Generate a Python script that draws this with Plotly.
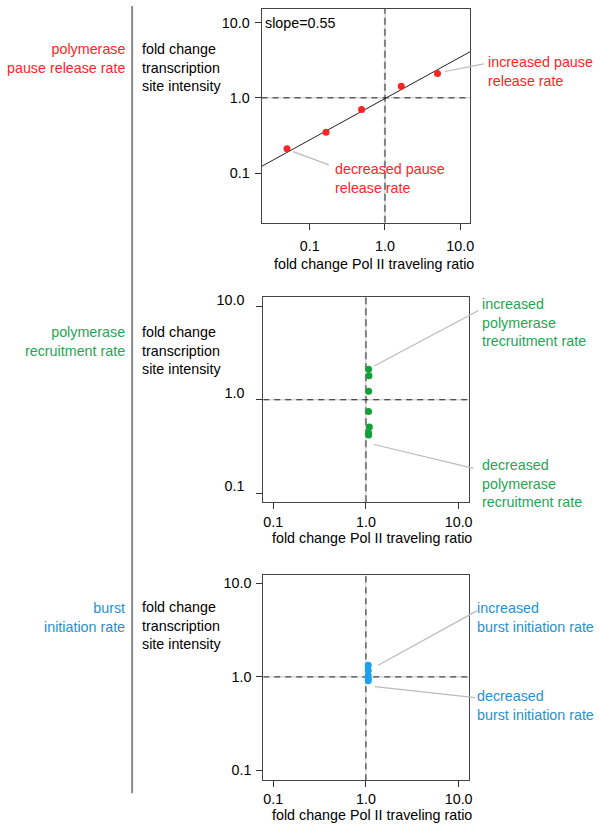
import numpy as np
import plotly.graph_objects as go

W, H = 600, 824

# ---------------- data ----------------
# panel 1: polymerase pause release rate
p1_x = [0.050, 0.165, 0.49, 1.65, 4.99]
p1_y = [0.21, 0.35, 0.70, 1.43, 2.10]
p1_slope = 0.55
p1_intercept = -0.01   # log10 intercept of fitted line

# panel 2: polymerase recruitment rate
p2_x = [1.07, 1.08, 1.07, 1.07, 1.09, 1.07, 1.07]
p2_y = [2.12, 1.81, 1.23, 0.75, 0.51, 0.44, 0.42]

# panel 3: burst initiation rate
p3_x = [1.06, 1.06, 1.06, 1.06, 1.06]
p3_y = [1.33, 1.17, 1.03, 0.95, 0.91]

tick_vals = [0.1, 1, 10]
tick_text = ["0.1", "1.0", "10.0"]

RED = "#FF2424"
GREEN_PT = "#12A03A"
GREEN_TX = "#1FA652"
BLUE_PT = "#1AA2F0"
BLUE_TX = "#2591D2"
FONT = "Liberation Sans, Arial, Helvetica, sans-serif"
FS = 14.3

# ---------------- layout geometry (pixels) ----------------
panels = [
    dict(px=(263.3, 473.3), py=(2.7, 218.3), xr=(-1.639, 1.132), yr=(-1.66, 1.185)),
    dict(px=(265, 471.7), py=(293.3, 500), xr=(-1.107, 1.107), yr=(-1.10, 1.10)),
    dict(px=(265, 471.7), py=(573.3, 780), xr=(-1.107, 1.107), yr=(-1.106, 1.089)),
]


def px2x(x):
    return x / W


def px2y(y):
    return 1 - y / H


fig = go.Figure()

layout = dict(
    width=W, height=H, margin=dict(l=0, r=0, t=0, b=0),
    paper_bgcolor="white", plot_bgcolor="white", showlegend=False,
    font=dict(family=FONT, size=FS, color="black"),
)

for i, p in enumerate(panels):
    n = "" if i == 0 else str(i + 1)
    common = dict(
        type="log", tickvals=tick_vals, ticktext=tick_text, showgrid=False,
        zeroline=False, showline=True, mirror=True, linecolor="#444", linewidth=1,
        ticks="outside", ticklen=6, tickcolor="#333", tickwidth=1,
        tickfont=dict(family=FONT, size=FS, color="black"),
    )
    layout["xaxis" + n] = dict(common, domain=[px2x(p["px"][0]), px2x(p["px"][1])],
                               range=list(p["xr"]), anchor="y" + n,
                               ticklabelstandoff=4 if i == 0 else 0)
    ya = dict(common, domain=[px2y(p["py"][1]), px2y(p["py"][0])],
              range=list(p["yr"]), anchor="x" + n, ticklabelstandoff=2)
    if i == 1:
        ya["ticklabelshift"] = -7
        ya["ticklabelstandoff"] = 9
    layout["yaxis" + n] = ya

fig.update_layout(**layout)


def ref_lines(i, vcolor, vwidth, vdash):
    n = "" if i == 0 else str(i + 1)
    p = panels[i]
    ylo, yhi = 10 ** p["yr"][0], 10 ** p["yr"][1]
    xlo, xhi = 10 ** p["xr"][0], 10 ** p["xr"][1]
    xa, ya = "x" + n, "y" + n
    for (xs, ys) in [([1, 1], [ylo, yhi]), ([xlo, xhi], [1, 1])]:
        fig.add_trace(go.Scatter(x=xs, y=ys, mode="lines", xaxis=xa, yaxis=ya,
                                 line=dict(color="#c8c8c8", width=1), hoverinfo="skip"))
    fig.add_trace(go.Scatter(x=[1, 1], y=[ylo, yhi], mode="lines", xaxis=xa, yaxis=ya,
                             line=dict(color=vcolor, width=vwidth, dash=vdash), hoverinfo="skip"))
    fig.add_trace(go.Scatter(x=[xlo, xhi], y=[1, 1], mode="lines", xaxis=xa, yaxis=ya,
                             line=dict(color="#222", width=1, dash="6px,5px"), hoverinfo="skip"))


ref_lines(0, "#808080", 2, "7px,4px")
ref_lines(1, "#808080", 2, "7px,4px")
ref_lines(2, "#222", 1, "6px,5px")

# fitted line panel 1
lx = np.array([10 ** panels[0]["xr"][0], 10 ** panels[0]["xr"][1]])
ly = 10 ** (p1_slope * np.log10(lx) + p1_intercept)
fig.add_trace(go.Scatter(x=lx, y=ly, mode="lines", xaxis="x", yaxis="y",
                         line=dict(color="#222", width=1)))

fig.add_trace(go.Scatter(x=p1_x, y=p1_y, mode="markers", xaxis="x", yaxis="y",
                         marker=dict(color=RED, size=7)))
fig.add_trace(go.Scatter(x=p2_x, y=p2_y, mode="markers", xaxis="x2", yaxis="y2",
                         marker=dict(color=GREEN_PT, size=7)))
fig.add_trace(go.Scatter(x=p3_x, y=p3_y, mode="markers", xaxis="x3", yaxis="y3",
                         marker=dict(color=BLUE_PT, size=7)))

annotations = []


def text(x, y, s, color="black", anchor="left"):
    annotations.append(dict(x=px2x(x), y=px2y(y), xref="paper", yref="paper", text=s,
                            showarrow=False, xanchor=anchor, yanchor="middle", align=anchor,
                            font=dict(family=FONT, size=FS, color=color)))


ylab = "fold change<br>transcription<br>site intensity"
xlab = "fold change Pol II traveling ratio"

# panel 1
text(128, 53, "polymerase<br>pause release rate", RED, "right")
text(141, 61.7, ylab)
text(265, 16.7, "slope=0.55")
text(489, 65.5, "increased pause<br>release rate", RED)
text(335, 174, "decreased pause<br>release rate", RED)
annotations.append(dict(x=px2x(377), y=px2y(260), xref="paper", yref="paper", text=xlab,
                        showarrow=False, xanchor="center", yanchor="middle",
                        font=dict(family=FONT, size=FS, color="black")))
# panel 2
text(128, 338.3, "polymerase<br>recruitment rate", GREEN_TX, "right")
text(141, 346.7, ylab)
text(483, 319.3, "increased<br>polymerase<br>trecruitment rate", GREEN_TX)
text(483, 480.7, "decreased<br>polymerase<br>recruitment rate", GREEN_TX)
annotations.append(dict(x=px2x(374), y=px2y(536), xref="paper", yref="paper", text=xlab,
                        showarrow=False, xanchor="center", yanchor="middle",
                        font=dict(family=FONT, size=FS, color="black")))
# panel 3
text(128, 615.5, "burst<br>initiation rate", BLUE_TX, "right")
text(141, 624.3, ylab)
text(478, 616, "increased<br>burst initiation rate", BLUE_TX)
text(478, 705, "decreased<br>burst initiation rate", BLUE_TX)
annotations.append(dict(x=px2x(374), y=px2y(815), xref="paper", yref="paper", text=xlab,
                        showarrow=False, xanchor="center", yanchor="middle",
                        font=dict(family=FONT, size=FS, color="black")))

shapes = []


def seg(x0, y0, x1, y1, color="#bbbbbb", width=1.2):
    shapes.append(dict(type="line", xref="paper", yref="paper",
                       x0=px2x(x0), y0=px2y(y0), x1=px2x(x1), y1=px2y(y1),
                       line=dict(color=color, width=width)))


# separator
seg(133, 0, 133, 793, "#8a8a8a", 2)
# callout lines
seg(448, 66, 487, 58.3)
seg(295, 146.7, 331, 160)
seg(376.7, 362.7, 481.7, 306.7)
seg(376.7, 441.7, 476.7, 465.7)
seg(380.7, 664, 480, 609.3)
seg(377.3, 685.7, 478.3, 696.7)

fig.update_layout(annotations=annotations, shapes=shapes)

fig.write_html("out.html", config={"displayModeBar": False},
               post_script="document.body.style.margin='0';document.body.style.overflow='hidden';")
